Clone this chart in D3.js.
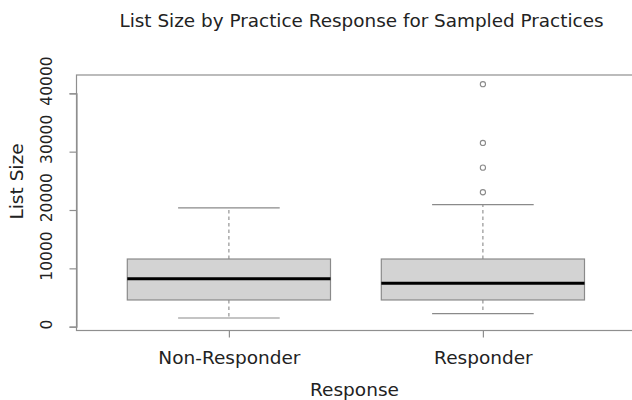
<!DOCTYPE html>
<html>
<head>
<meta charset="utf-8">
<script src="https://cdn.jsdelivr.net/npm/d3@7"></script>
<style>
  html, body { margin: 0; padding: 0; background: #fff; }
  svg { display: block; }
  text { font-family: "DejaVu Sans", sans-serif; fill: #222; }
</style>
</head>
<body>
<svg id="chart" width="632" height="400"></svg>
<script>
// ---- data ----
const categories = ["Non-Responder", "Responder"];
const lowerWhisker = [1490, 2230];
const q1 = [4580, 4580];
const median = [8230, 7440];
const q3 = [11600, 11600];
const upperWhisker = [20350, 20920];
const outliersNonResponder = [];
const outliersResponder = [23040, 27260, 31490, 41560];
const yTicks = [0, 10000, 20000, 30000, 40000];

const title = "List Size by Practice Response for Sampled Practices";
const xLabel = "Response";
const yLabel = "List Size";

// ---- layout ----
const svg = d3.select("#chart");
const plot = { left: 76.5, right: 640, top: 75, bottom: 330.5 };
const axisColor = "#8f8f8f";
const boxStroke = "#8a8a8a";

const x = d3.scaleLinear().domain([0.4, 2.6]).range([76.5, 76.5 + 2.2 * 254]);
const y = d3.scaleLinear().domain([0, 40000]).range([326.7, 93.3]);

const groups = categories.map((c, i) => ({
  name: c, pos: i + 1,
  lo: lowerWhisker[i], q1: q1[i], med: median[i], q3: q3[i], hi: upperWhisker[i],
  out: [outliersNonResponder, outliersResponder][i]
}));

const boxHalf = 0.4, capHalf = 0.2;

const g = svg.append("g");

groups.forEach(d => {
  // whiskers (dashed)
  g.append("line")
    .attr("x1", x(d.pos)).attr("x2", x(d.pos))
    .attr("y1", y(d.q3)).attr("y2", y(d.hi))
    .attr("stroke", boxStroke).attr("stroke-width", 1.1).attr("stroke-dasharray", "3.5,3");
  g.append("line")
    .attr("x1", x(d.pos)).attr("x2", x(d.pos))
    .attr("y1", y(d.q1)).attr("y2", y(d.lo))
    .attr("stroke", boxStroke).attr("stroke-width", 1.1).attr("stroke-dasharray", "3.5,3");
  // caps
  [d.hi, d.lo].forEach(v => {
    g.append("line")
      .attr("x1", x(d.pos - capHalf)).attr("x2", x(d.pos + capHalf))
      .attr("y1", y(v)).attr("y2", y(v))
      .attr("stroke", boxStroke).attr("stroke-width", 1.2);
  });
  // box
  g.append("rect")
    .attr("x", x(d.pos - boxHalf)).attr("width", x(d.pos + boxHalf) - x(d.pos - boxHalf))
    .attr("y", y(d.q3)).attr("height", y(d.q1) - y(d.q3))
    .attr("fill", "#d3d3d3").attr("stroke", boxStroke).attr("stroke-width", 1.2);
  // median
  g.append("line")
    .attr("x1", x(d.pos - boxHalf)).attr("x2", x(d.pos + boxHalf))
    .attr("y1", y(d.med)).attr("y2", y(d.med))
    .attr("stroke", "#000").attr("stroke-width", 3);
  // outliers
  d.out.forEach(v => {
    g.append("circle")
      .attr("cx", x(d.pos)).attr("cy", y(v)).attr("r", 2.6)
      .attr("fill", "none").attr("stroke", boxStroke).attr("stroke-width", 1.1);
  });
});

// plot frame
svg.append("rect")
  .attr("x", plot.left).attr("y", plot.top)
  .attr("width", plot.right - plot.left).attr("height", plot.bottom - plot.top)
  .attr("fill", "none").attr("stroke", axisColor).attr("stroke-width", 1.2);

// y axis
const yAxis = d3.axisLeft(y).tickValues(yTicks).tickSize(7).tickFormat(d3.format("d"));
const ya = svg.append("g").attr("transform", `translate(${plot.left},0)`).call(yAxis);
ya.select(".domain").attr("stroke", axisColor).attr("stroke-width", 1.2);
ya.selectAll(".tick line").attr("stroke", axisColor).attr("stroke-width", 1.2);
ya.selectAll(".tick text").remove();
ya.selectAll(".tick").each(function(v) {
  const t = d3.select(this).append("text")
    .attr("font-size", 15.5)
    .attr("text-anchor", "start")
    .attr("fill", "#222")
    .text(d3.format("d")(v));
  const w = t.node().getComputedTextLength();
  t.attr("transform", `translate(${51.5 - plot.left},${0.24 * w}) rotate(-90)`)
   .attr("x", 0).attr("y", 0).attr("dy", 0);
});

// x axis
const xAxis = d3.axisBottom(x).tickValues(groups.map(d => d.pos)).tickSize(7)
  .tickFormat((d, i) => categories[i]);
const xa = svg.append("g").attr("transform", `translate(0,${plot.bottom})`).call(xAxis);
xa.select(".domain").remove();
xa.selectAll(".tick line").attr("stroke", axisColor).attr("stroke-width", 1.2);
xa.selectAll(".tick text")
  .attr("font-size", 18.5).attr("font-family", "DejaVu Sans, sans-serif")
  .attr("fill", "#222").attr("y", 33).attr("dy", 0);

// title
svg.append("text")
  .attr("x", 361.5).attr("y", 26.5)
  .attr("text-anchor", "middle").attr("font-size", 18.4)
  .text(title);

// x label
svg.append("text")
  .attr("x", 354.5).attr("y", 395.5)
  .attr("text-anchor", "middle").attr("font-size", 18.5)
  .text(xLabel);

// y label
svg.append("text")
  .attr("text-anchor", "middle").attr("font-size", 18.5)
  .attr("transform", `translate(23,181.5) rotate(-90)`)
  .text(yLabel);
</script>
</body>
</html>
